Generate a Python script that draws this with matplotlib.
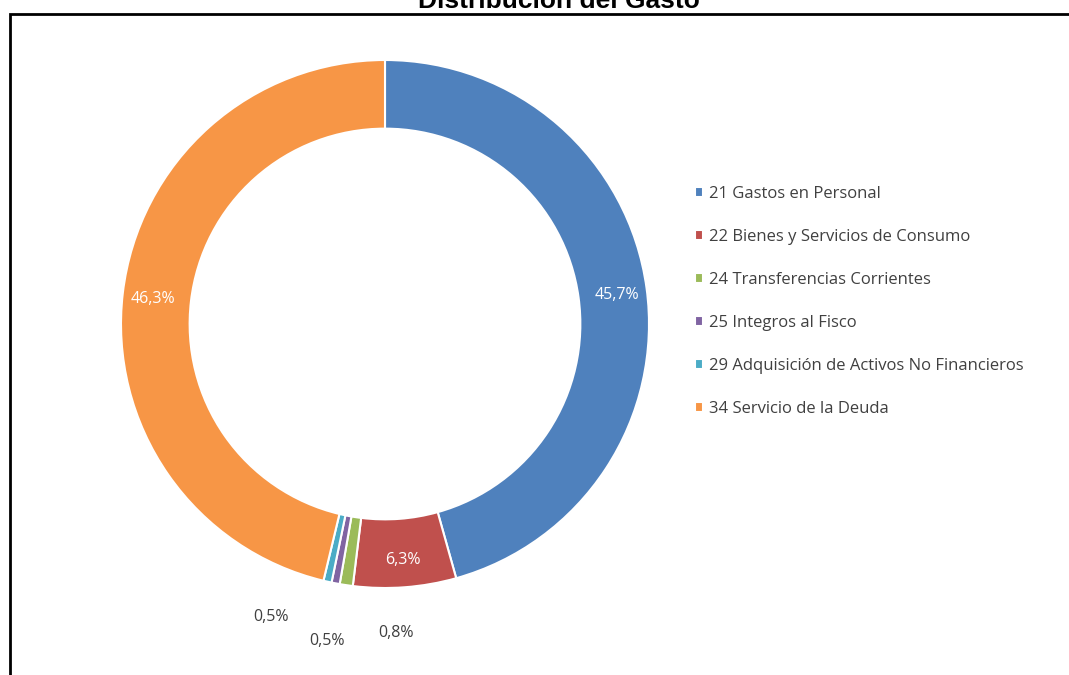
import numpy as np
import matplotlib.pyplot as plt
from matplotlib.patches import Rectangle

# datos del grafico
categorias = ['21 Gastos en Personal', '22 Bienes y Servicios de Consumo',
              '24 Transferencias Corrientes', '25 Integros al Fisco',
              '29 Adquisición de Activos No Financieros', '34 Servicio de la Deuda']
porcentajes = [45.7, 6.3, 0.8, 0.5, 0.5, 46.3]
etiquetas = ['45,7%', '6,3%', '0,8%', '0,5%', '0,5%', '46,3%']
colores = ['#4F81BD', '#C0504D', '#9BBB59', '#8064A2', '#4BACC6', '#F79646']

# etiquetas fuera del anillo (indice, x, y en unidades del radio)
fuera = {2: (0.04, -1.17), 3: (-0.22, -1.20), 4: (-0.43, -1.11)}

W, H = 1069, 675
fig = plt.figure(figsize=(W / 100, H / 100), dpi=100)
plt.rcParams['font.family'] = ['Open Sans', 'DejaVu Sans']

# centro y radio en pixeles
cx, cy, R = 385, 324, 268
half = 330
ax = fig.add_axes([(cx - half) / W, (H - cy - half) / H, 2 * half / W, 2 * half / H])
lim = half / R
ax.set_xlim(-lim, lim)
ax.set_ylim(-lim, lim)
ax.set_aspect('equal')
ax.axis('off')

wedges, _ = ax.pie(porcentajes, colors=colores, startangle=90, counterclock=False,
                   radius=1.0, wedgeprops=dict(width=0.26, edgecolor='white', linewidth=1.5))

for i, w in enumerate(wedges):
    if i in fuera:
        x, y = fuera[i]
        ax.text(x, y, etiquetas[i], ha='center', va='center', fontsize=11.5, color='#404040')
    else:
        ang = np.deg2rad((w.theta1 + w.theta2) / 2)
        ax.text(0.885 * np.cos(ang), 0.885 * np.sin(ang) - 0.01, etiquetas[i], ha='center',
                va='center', fontsize=11.5, color='white')

fig.legend(wedges, categorias, loc='upper left', bbox_to_anchor=(680 / W, 1 - 171 / H),
           frameon=False, fontsize=12, labelspacing=1.62, handlelength=0.5,
           handleheight=0.5, handletextpad=0.35, labelcolor='#404040')

# titulo (cortado arriba) y marco
fig.text(559 / W, 1 - 8 / H, 'Distribución del Gasto', ha='center', va='baseline',
         fontsize=19, fontweight='bold', family='Liberation Sans')
fig.patches.append(Rectangle((10 / W, -0.1), 1.2, 1.1 - 14 / H, transform=fig.transFigure,
                             fill=False, edgecolor='black', linewidth=2))

fig.savefig('out.png', dpi=100)
